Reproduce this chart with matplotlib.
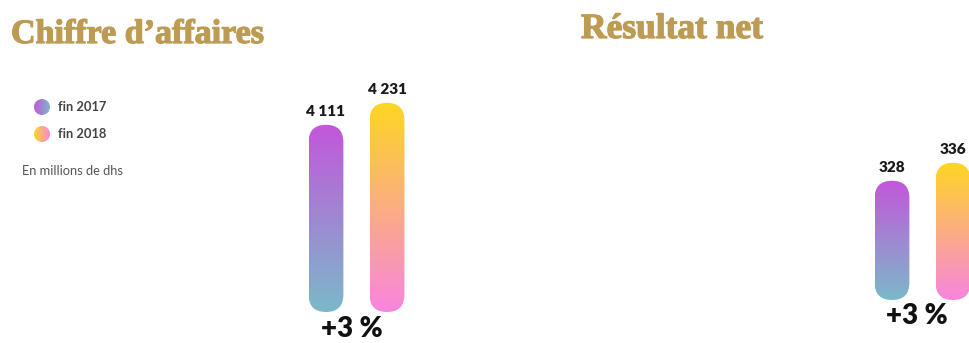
import numpy as np
import matplotlib.pyplot as plt
import matplotlib.patheffects as pe
from matplotlib.patches import FancyBboxPatch, Circle
from matplotlib.colors import LinearSegmentedColormap

# data
years = ["fin 2017", "fin 2018"]
ca_values = [4111, 4231]
ca_labels = ["4 111", "4 231"]
rn_values = [328, 336]
rn_labels = ["328", "336"]
growth_ca = "+3 %"
growth_rn = "+3 %"

gold = "#BE9B52"
grad_2017 = ["#C257DB", "#7BB9C9"]   # top -> bottom
grad_2018 = ["#FFD623", "#F885DF"]

W, H = 969, 343
fig = plt.figure(figsize=(W / 100, H / 100), dpi=100)

# overlay canvas in pixel units for titles / legend
canvas = fig.add_axes([0, 0, 1, 1])
canvas.set_xlim(0, W)
canvas.set_ylim(H, 0)
canvas.set_aspect("auto")
canvas.axis("off")


def px_axes(left, bottom, width, height):
    ax = fig.add_axes([left / W, bottom / H, width / W, height / H])
    ax.axis("off")
    return ax


def gradient_bar(ax, x, width, base, value, colors):
    # bar corners in display pixels, rounded ends
    (x0, y0) = ax.transData.transform((x - width / 2, base))
    (x1, y1) = ax.transData.transform((x + width / 2, value))
    w = x1 - x0
    patch = FancyBboxPatch((x0, y0), w, y1 - y0,
                           boxstyle="round,pad=0,rounding_size=%f" % (w / 2),
                           transform=None, facecolor="none", edgecolor="none")
    fig.add_artist(patch)
    cmap = LinearSegmentedColormap.from_list("g", colors[::-1])
    grad = np.linspace(0, 1, 256).reshape(-1, 1)
    im = ax.imshow(grad, cmap=cmap, origin="lower", aspect="auto",
                   extent=(x - width / 2, x + width / 2, base, value),
                   interpolation="bilinear")
    im.set_clip_path(patch)


def bar_chart(ax, values, labels, base, growth, gdx=0, gdy=-4):
    xs = np.arange(len(values))
    grads = [grad_2017, grad_2018]
    for x, v, lab, g in zip(xs, values, labels, grads):
        gradient_bar(ax, x, 0.57, base, v, g)
        ax.annotate(lab, (x, v), xytext=(0, 5), textcoords="offset points",
                    ha="center", va="bottom", fontsize=11, fontweight="heavy",
                    family="Lato", color="#1a1a1a")
    ax.annotate(growth, (0.5, base), xytext=(gdx, gdy), textcoords="offset points",
                ha="center", va="top", fontsize=20, fontweight="heavy",
                family="Lato", color="#111111")


# Chiffre d'affaires: bars at 326 / 387 px, base at y=312
ax1 = px_axes(265, 343 - 312, 183, 272)
ax1.set_xlim(-1, 2)
ca_base = 3090
ax1.set_ylim(ca_base, ca_base + 272 * 120 / 22)
bar_chart(ax1, ca_values, ca_labels, ca_base, growth_ca, gdx=-3, gdy=-3)

# Résultat net: bars at 892 / 953 px, base at y=300
ax2 = px_axes(831, 343 - 300, 183, 272)
ax2.set_xlim(-1, 2)
rn_base = 275
ax2.set_ylim(rn_base, rn_base + 272 * 8 / 18)
bar_chart(ax2, rn_values, rn_labels, rn_base, growth_rn, gdx=-4, gdy=-2)

# titles (slight stroke to get the heavier display weight)
bold = [pe.withStroke(linewidth=0.9, foreground=gold)]
canvas.text(11, 43, "Chiffre d\u2019affaires", family="Liberation Serif",
            fontweight="bold", fontsize=24.5, color=gold, ha="left",
            va="baseline", path_effects=bold)
canvas.text(581, 38, "R\u00e9sultat net", family="Liberation Serif",
            fontweight="bold", fontsize=25.5, color=gold, ha="left",
            va="baseline", path_effects=bold)

# legend with gradient dots
for i, (lab, g) in enumerate(zip(years, [grad_2017, grad_2018])):
    cy = 107 + 27 * i
    circ = Circle((42, cy), 8, transform=canvas.transData,
                  facecolor="none", edgecolor="none")
    canvas.add_patch(circ)
    cmap = LinearSegmentedColormap.from_list("l", g)
    im = canvas.imshow(np.linspace(0, 1, 64).reshape(1, -1), cmap=cmap,
                       extent=(34, 50, cy + 8, cy - 8), aspect="auto",
                       interpolation="bilinear")
    im.set_clip_path(circ)
    canvas.text(58, cy, lab, fontsize=9.3, fontweight="bold", family="Lato",
                color="#444444", ha="left", va="center")

canvas.text(22, 171, "En millions de dhs", fontsize=9.3, family="Lato",
            color="#555555", ha="left", va="center")
canvas.set_xlim(0, W)
canvas.set_ylim(H, 0)

fig.savefig("out.png", dpi=100)
